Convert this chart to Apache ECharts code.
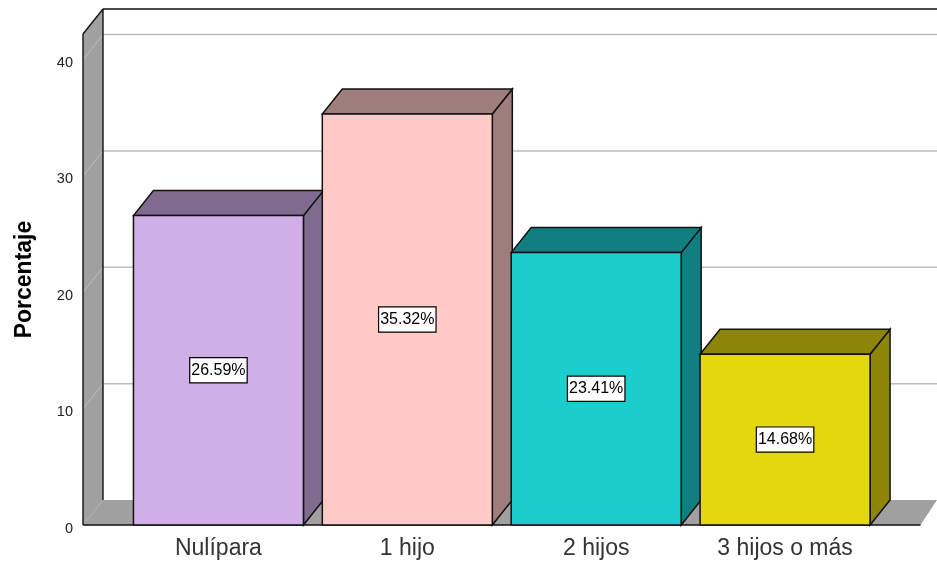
<!DOCTYPE html>
<html>
<head>
<meta charset="utf-8">
<style>html,body{margin:0;padding:0;background:#fff}#chart{width:937px;height:563px}</style>
<script src="https://cdn.jsdelivr.net/npm/echarts@6/dist/echarts.min.js"></script>
</head>
<body>
<div id="chart"></div>
<script>
// Distribución por número de hijos
const categories = ['Nulípara', '1 hijo', '2 hijos', '3 hijos o más'];
const percentages = [26.59, 35.32, 23.41, 14.68];
const frontColors = ['#D0AEE6', '#FFCAC8', '#1CCDCD', '#E3D70D'];
const sideColors = ['#806B8E', '#9E7D7C', '#117F7F', '#8D8507'];
const yTicks = [10, 20, 30, 40];

// Oblique projection offset of the 3D box
const DEPTH_X = 20;
const DEPTH_Y = -25;
const BAR_RATIO = 0.9;
const LEFT_OVERHANG = 41;   // floor and wall start this far left of the first band
const RIGHT_OVERHANG = 41;  // floor runs this far right of the last band
const WALL = '#A0A0A0';
const GRID_LINE = '#BDBDBD';
const EDGE = '#111';

const chart = echarts.init(document.getElementById('chart'));

function poly(points, fill, stroke) {
  return {
    type: 'polygon',
    shape: { points },
    style: { fill, stroke: stroke || null, lineWidth: stroke ? 1.5 : 0 }
  };
}
function seg(x1, y1, x2, y2, stroke, lineWidth) {
  return {
    type: 'line',
    shape: { x1, y1, x2, y2 },
    style: { stroke, lineWidth, fill: null }
  };
}

// Walls, floor and gridlines behind the boxes
function renderRoom(params, api) {
  const c = params.coordSys;
  const left = c.x - LEFT_OVERHANG;
  const right = c.x + c.width + RIGHT_OVERHANG;
  const top = c.y;
  const base = c.y + c.height;
  const pageRight = api.getWidth();
  const backL = left + DEPTH_X;
  const children = [
    poly([[left, base], [backL, base + DEPTH_Y], [pageRight, base + DEPTH_Y], [right, base]], WALL),
    poly([[left, top], [backL, top + DEPTH_Y], [backL, base + DEPTH_Y], [left, base]], WALL)
  ];
  yTicks.forEach(function (t) {
    const y = api.coord([0, t])[1];
    children.push(seg(left, y, backL, y + DEPTH_Y, '#BDBDBD', 1));
    children.push(seg(backL, y + DEPTH_Y, pageRight, y + DEPTH_Y, GRID_LINE, 1.5));
  });
  children.push(seg(backL, top + DEPTH_Y, backL, base + DEPTH_Y, EDGE, 1.4));
  children.push(seg(backL, top + DEPTH_Y, pageRight, top + DEPTH_Y, EDGE, 1.4));
  children.push(seg(left, top, backL, top + DEPTH_Y, EDGE, 1.4));
  children.push(seg(left, top, left, base, EDGE, 1.4));
  children.push(seg(left, base, right, base, EDGE, 1.6));
  return { type: 'group', children };
}

// One box: side, top, front face and its percentage tag
function renderBox(params, api) {
  const i = params.dataIndex;
  const value = api.value(1);
  const center = api.coord([api.value(0), 0])[0];
  const width = api.size([1, 0])[0] * BAR_RATIO;
  const yTop = api.coord([0, value])[1];
  const yBase = api.coord([0, 0])[1];
  const xL = center - width / 2;
  const xR = center + width / 2;
  return {
    type: 'group',
    children: [
      poly([[xR, yTop], [xR + DEPTH_X, yTop + DEPTH_Y], [xR + DEPTH_X, yBase + DEPTH_Y], [xR, yBase]], sideColors[i], EDGE),
      poly([[xL, yTop], [xL + DEPTH_X, yTop + DEPTH_Y], [xR + DEPTH_X, yTop + DEPTH_Y], [xR, yTop]], sideColors[i], EDGE),
      poly([[xL, yTop], [xR, yTop], [xR, yBase], [xL, yBase]], frontColors[i], EDGE),
      {
        type: 'text',
        x: center,
        y: (yTop + yBase) / 2,
        style: {
          text: value.toFixed(2) + '%',
          align: 'center',
          verticalAlign: 'middle',
          font: '16px "Liberation Sans", Arial, sans-serif',
          fill: '#000',
          backgroundColor: '#fff',
          borderColor: '#000',
          borderWidth: 1.2,
          padding: [4, 1, 4, 1]
        }
      }
    ]
  };
}

chart.setOption({
  animation: false,
  backgroundColor: '#fff',
  grid: { left: 124, top: 34, width: 755.5, height: 491, outerBoundsMode: 'none' },
  xAxis: {
    type: 'category',
    data: categories,
    axisLine: { show: false },
    axisTick: { show: false },
    axisLabel: {
      color: '#333',
      fontFamily: '"Liberation Sans", Arial, sans-serif',
      fontSize: 23,
      margin: 12
    }
  },
  yAxis: {
    type: 'value',
    min: 0,
    max: 42.2,
    interval: 10,
    offset: 41,
    name: 'Porcentaje',
    nameLocation: 'middle',
    nameGap: 47,
    nameRotate: 90,
    nameTextStyle: {
      color: '#000',
      fontFamily: '"Liberation Sans", Arial, sans-serif',
      fontSize: 23,
      fontWeight: 'bold'
    },
    axisLine: { show: false },
    axisTick: { show: false },
    splitLine: { show: false },
    axisLabel: {
      color: '#222',
      fontFamily: '"Liberation Sans", Arial, sans-serif',
      fontSize: 14.5,
      margin: 10,
      verticalAlign: 'top',
      lineHeight: 7,
      showMaxLabel: false,
      showMinLabel: true
    }
  },
  series: [
    {
      type: 'custom',
      silent: true,
      clip: false,
      z: 1,
      data: [[0, 0]],
      encode: { x: 0, y: 1 },
      renderItem: renderRoom
    },
    {
      type: 'custom',
      silent: true,
      clip: false,
      z: 2,
      data: percentages.map(function (v, i) { return [i, v]; }),
      encode: { x: 0, y: 1 },
      renderItem: renderBox
    }
  ]
});
</script>
</body>
</html>
